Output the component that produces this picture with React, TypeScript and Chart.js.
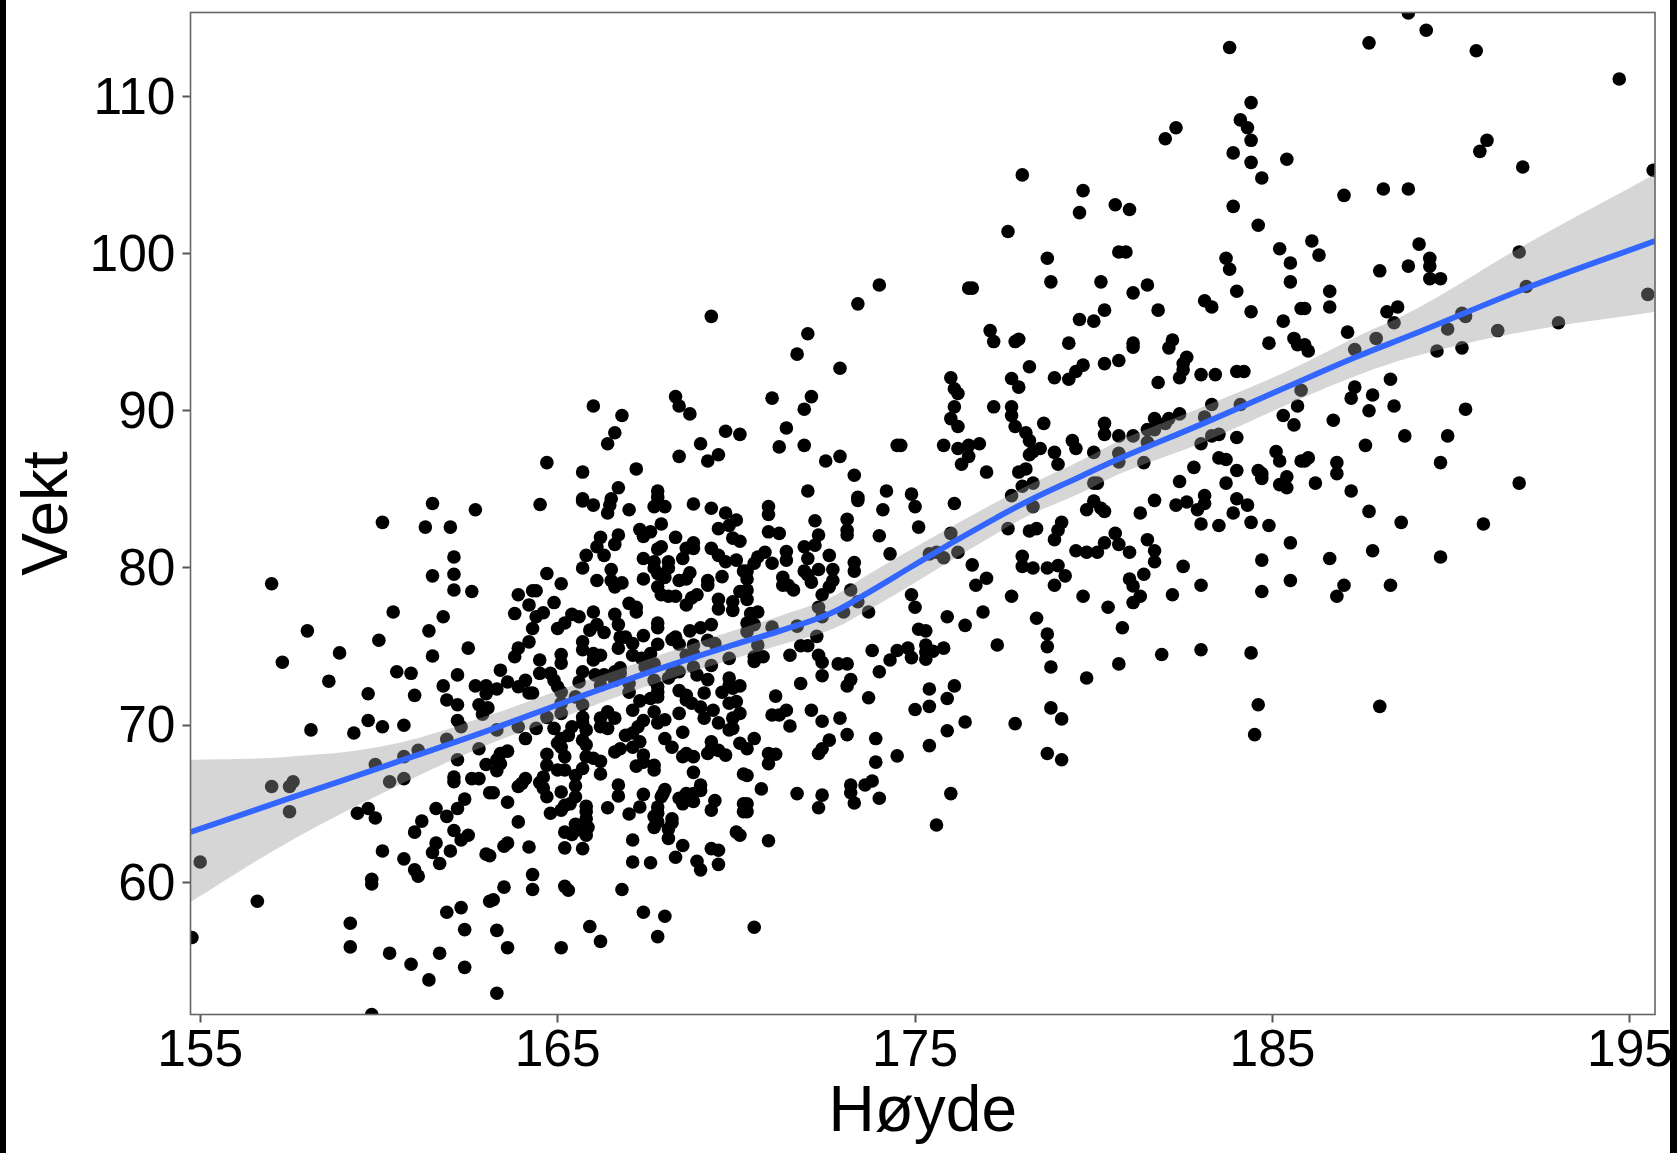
import React, { useEffect, useRef } from "react";
import { Chart, registerables } from "chart.js";

Chart.register(...registerables);

const xTickValues = [155, 165, 175, 185, 195];
const yTickValues = [60, 70, 80, 90, 100, 110];
const xLabel = "Høyde";
const yLabel = "Vekt";

const hoydeVenstre = [161.5,162.7,160.1,161.3,162.0,162.1,161.5,162.1,162.1,162.6,157.0,160.4,161.8,161.4,158.0,160.0,158.9,162.5,161.5,157.3,
160.5,160.9,158.6,162.2,161.8,159.7,161.0,162.7,163.0,163.0,161.9,162.2,162.8,163.05,162.9,162.2,159.7,158.1,159.3,160.1,
160.7,162.3,161.9,161.1,160.7,162.8,162.2,159.9,163.0,162.1,162.1,162.6,162.8,160.3,160.7,157.0,157.5,157.6,157.5,163.1,
162.4,161.6,162.2,159.7,159.4,159.9,161.9,161.2,161.0,162.1,162.5,162.3,161.6,161.5,162.0,160.1,163.0,163.1,160.7,161.7,
155.0,161.0,161.1,159.8,159.8,156.6,163.1,162.3,161.9,159.2,162.4,154.77,159.2,160.3,161.7,160.9,162.4,161.4,159.8];
const vektVenstre = [84.1,83.7,82.9,82.6,82.6,80.7,79.5,79.6,78.6,78.5,79.0,77.2,76.9,76.0,76.0,75.4,74.6,74.9,74.4,74.0,
73.4,73.3,72.8,73.2,72.5,72.0,71.9,72.5,72.5,72.0,71.6,71.3,71.3,71.1,70.7,70.3,70.3,69.7,69.5,69.9,
70.0,69.9,69.1,68.4,68.0,68.5,67.8,67.5,67.5,66.7,66.4,66.6,66.6,66.4,66.6,66.1,66.1,66.4,64.5,65.7,
65.3,64.7,64.7,64.7,64.4,64.1,64.2,63.9,63.2,63.3,63.0,62.7,62.5,61.9,62.0,62.0,61.8,61.7,61.5,61.2,
61.3,60.8,60.4,60.2,59.9,58.8,58.8,58.4,58.1,57.4,57.0,56.5,55.9,55.5,55.5,54.8,54.6,53.8,51.6];

const hoydeOvre = [169.3,173.4,174.0,172.0,171.7,172.9,166.0,166.8,168.3,168.4,168.7,171.0,172.1,171.9,171.4,166.6,166.4,169.7,170.1,169.0,
171.2,171.9,174.5,168.4,169.5,169.2,172.5,172.9,164.7,165.7,167.2,166.7,173.3,167.8,167.8,172.0,174.2,173.4,165.7,166.5];
const vektOvre = [96.0,96.8,98.0,94.9,93.6,92.7,90.3,89.7,90.9,90.3,89.8,90.8,90.9,90.1,88.9,88.6,87.9,88.7,88.5,87.9,
87.7,87.8,87.8,87.1,87.2,86.8,86.8,87.1,86.7,86.1,86.3,85.1,85.9,84.9,84.5,84.9,84.9,84.5,84.4,84.4];

const hoydeMidt = [164.51,165.7,166.0,166.46,167.0,167.7,168.0,168.8,169.3,170.9,173.4,174.1,166.4,169.7,170.9,172.2,173.1,170.0,169.8,169.5,
167.9,170.9,171.2,173.1,173.1,174.0,172.3,167.3,167.6,167.4,166.2,166.7,166.6,166.1,168.3,169.9,170.1,168.8,168.6,168.8,
167.9,167.8,169.3,171.9,172.2,172.6,174.3,166.3,165.8,167.4,168.5,169.5,169.7,170.0,170.8,170.6,170.5,171.4,171.4,171.0,
172.0,165.7,167.7,168.1,167.7,168.1,167.8,173.3,173.3,166.5,170.3,170.2,169.6,168.7,171.9,172.3,172.7,172.0,170.3,167.4,
168.0,166.1,166.5,166.8,166.6,164.7,168.4,168.6,169.2,169.2,171.3,171.3,171.45,171.6,172.1,172.7,172.6,172.4,165.1,167.8,
167.9,168.1,168.3,168.9,168.75,168.6,170.3,170.1,170.3,163.9,164.3,164.4,164.2,164.9,169.5,169.5,169.9,169.9,167.0,167.2,
167.2,163.8,164.4,164.6,165.4,165.6,166.0,166.6,170.6,170.4,173.7,172.3,173.2,173.4,173.0,172.4,166.7,167.8,167.8,169.3,
169.0,168.7,170.3,170.5,170.3,171.0,171.7,164.3,165.2,165.0,165.9,166.1,166.3,167.4,166.75,166.9,168.3,168.2,168.4,168.8,
169.2,169.4,172.25,170.6,171.8,172.0,173.8,174.5,164.2,165.7,166.7,167.1,167.8,165.7,163.9,163.8,165.1,165.1,166.0,166.2,
166.0,167.1,167.35,167.6,168.6,168.8,168.8,169.3,169.8,170.5,170.75,170.5,171.5,172.3,172.4,172.85,173.1,174.3,174.0,164.5,
163.4,166.75,166.6,167.7,167.45,164.5,164.8,165.7,166.05,166.3,166.75,168.2,168.4,168.9,169.8,172.4,173.2,173.1,171.8,165.6,
166.2,166.6,167.0,167.7,168.1,169.2,163.3,163.6,163.9,164.1,164.9,165.0,165.1,164.2,164.3,167.0,167.8,167.8,168.4,168.6,
169.1,169.8,170.1,169.6,169.9,171.1,173.7,165.5,165.1,165.7,167.3,167.6,167.8,168.6,168.75,169.0,169.35,169.8,170.0,167.1,
167.7,168.4,170.1,171.4,171.0,171.2,172.1,165.1,164.7,165.7,166.4,166.2,166.6,168.0,167.8,169.1,169.9,172.4,172.9,169.5,
167.4,165.7,167.25,166.4,166.2,171.5,169.9,169.8,164.9,165.4,165.8,164.4,163.9,163.3,173.1,173.9,167.1,168.5,170.5,172.6,
168.0,164.1,165.1,165.3,165.7,166.9,167.3,169.3,170.1,172.4,172.3,168.2,167.1,166.75,166.6,165.8,165.0,165.1,164.7,165.2,
169.3,169.5,169.7,169.2,170.3,170.9,171.1,168.5,168.8,168.6,167.4,165.8,166.0,166.2,174.5,173.9,170.9,167.2,167.7,167.4,
167.7,164.7,163.6,163.4,163.3,163.4,163.3,165.2,165.0,165.7,165.5,166.2,168.8,170.2,170.3,164.6,164.5,164.1,164.0,163.9,
164.6,163.2,165.5,166.7,169.0,168.0,167.4,167.95,170.7,171.7,172.4,173.2,173.2,173.6,173.8,173.3,174.0,163.6,164.7,165.1,
165.5,166.7,167.9,168.4,168.6,168.8,169.0,168.5,168.8,169.4,165.35,165.2,165.8,167.3,166.4,167.8,167.8,170.2,170.3,170.2,
170.3,169.3,172.3,164.8,165.1,165.8,167.0,167.7,168.2,168.2,167.8,165.8,165.85,165.5,163.9,167.7,168.1,170.0,170.1,165.2,
165.4,165.6,165.8,168.1,167.1,170.9,168.5,164.2,165.2,165.7,169.3,169.5,163.6,163.5,168.3,167.1,167.6,168.9,169.0,169.5,
164.3,164.3,163.5,165.2,165.3,166.8,163.2,167.4,168.0,165.9,163.3,170.5,167.8,166.2,163.6,165.1,163.3];
const vektMidt = [84.04,84.26,84.0,84.0,83.7,83.9,83.9,84.07,83.8,83.9,84.3,83.7,83.5,83.5,83.4,83.0,83.1,83.05,82.7,82.5,
82.8,82.3,82.2,82.4,82.1,82.05,82.1,82.45,82.3,82.0,81.95,82.1,81.5,81.35,81.95,81.9,81.7,81.6,81.25,81.25,
81.35,81.2,81.25,81.35,81.45,80.8,80.9,80.8,80.8,80.6,80.6,80.8,80.4,80.5,81.0,80.7,80.3,81.05,80.5,80.3,
80.6,80.0,80.4,80.4,80.0,80.0,79.65,80.35,79.8,79.9,79.8,79.8,79.45,79.7,79.8,79.9,79.9,79.55,79.3,79.3,
79.4,79.2,79.2,79.05,78.8,79.65,79.2,79.3,79.2,78.9,79.4,78.9,78.9,78.6,79.1,79.2,78.8,78.3,79.0,78.8,
78.3,78.2,78.2,78.3,78.1,77.65,78.6,78.5,78.0,78.3,78.55,78.55,77.65,77.8,78.0,77.4,77.85,77.3,77.75,77.2,
77.5,77.1,76.9,77.15,77.05,76.9,77.2,77.05,77.2,77.1,77.2,77.5,78.6,77.85,77.2,76.9,76.4,76.5,76.2,76.4,
76.2,76.0,76.5,76.4,75.95,76.25,76.3,76.15,76.5,76.15,76.05,76.4,75.9,75.7,75.6,75.6,75.6,75.45,75.15,75.1,
75.4,75.2,75.65,75.1,75.05,75.05,74.75,74.75,75.3,75.3,74.9,75.2,75.15,74.8,74.9,74.35,74.5,73.95,74.55,74.45,
74.15,74.45,74.25,74.55,74.45,74.55,73.7,73.8,74.25,74.35,74.35,74.05,74.45,74.45,74.0,73.9,73.9,74.15,73.4,74.15,
73.5,73.65,73.4,73.9,73.7,73.3,73.3,73.4,73.2,73.2,73.3,73.3,73.4,73.2,73.0,73.15,72.9,72.5,72.65,72.75,
72.55,72.85,72.65,72.85,73.0,72.9,72.3,72.75,72.45,72.85,72.85,72.45,72.1,72.05,72.05,72.1,72.45,72.1,72.2,71.9,
72.05,72.55,72.5,72.1,72.35,71.85,71.75,71.8,71.4,71.3,71.55,71.7,71.8,71.6,71.4,71.15,70.95,71.4,71.5,70.95,
70.85,70.75,70.75,70.95,70.65,70.65,70.95,70.75,70.5,70.5,70.85,70.45,70.45,70.35,70.15,70.45,70.45,70.25,70.45,70.15,
70.3,70.15,69.9,69.8,69.9,69.95,69.8,69.7,69.8,69.9,69.7,69.8,69.9,69.7,69.4,69.15,69.5,69.55,69.15,69.05,
69.15,69.15,69.15,69.35,69.05,69.35,68.95,68.95,68.85,68.5,68.2,68.6,68.6,68.5,68.3,68.75,68.85,68.6,68.15,68.0,
68.5,68.4,68.1,68.2,68.5,68.2,68.15,68.0,68.0,68.2,68.1,68.0,67.9,67.7,68.05,67.65,67.55,67.4,67.45,67.65,
67.15,67.45,68.35,68.2,67.8,67.55,67.1,67.15,67.15,67.25,66.8,66.9,67.0,66.9,66.8,66.7,66.35,66.6,66.3,66.1,
66.0,65.7,66.15,66.2,66.2,65.9,65.6,65.65,65.95,65.65,65.55,66.2,65.7,66.2,66.45,65.05,65.35,65.1,65.45,65.75,
65.45,65.5,65.45,65.35,65.65,65.65,65.85,65.0,65.15,65.2,65.0,64.9,64.85,64.8,64.75,64.8,64.4,65.0,65.0,64.5,
64.5,64.6,64.75,64.4,64.6,64.5,64.35,64.2,64.05,63.8,63.85,64.05,63.5,63.7,63.85,63.5,63.4,63.2,63.0,63.2,
63.05,63.35,63.0,62.8,62.7,62.65,62.35,62.25,62.2,62.15,62.15,62.05,62.5,62.3,61.6,61.3,61.25,61.35,60.8,61.15,
60.5,59.55,59.7,59.75,59.5,59.55,58.9,58.1,57.85,57.2,56.95,57.15,56.55,56.25,55.85,55.85,52.95];

const hoydeHoyreOvre = [183.8,184.4,182.3,182.0,184.3,184.1,184.4,183.9,184.4,185.4,184.7,178.0,179.7,180.6,181.0,179.6,183.9,184.6,177.6,178.7,180.7,180.9,
185.2,183.7,183.8,185.5,178.8,180.2,181.5,185.5,181.1,184.0,176.5,176.6,183.1,183.3,181.8,184.4,180.3,179.6,180.0,185.3,
185.8,177.1,177.2,177.9,177.8,179.3,181.1,181.1,182.2,182.1,184.9,185.6,185.7,182.6,182.5,182.5,182.4,179.7,179.5,179.3,
180.3,180.7,178.2,178.9,177.7,177.9,176.0,176.1,176.2,181.8,183.0,183.4,184.0,184.2,177.2,176.1,177.7,177.7,176.0,176.2,
177.8,178.6,178.1,178.2,180.3,180.3,180.7,181.1,181.7,181.5,181.7,182.1,182.0,182.4,183.3,183.1,184.1,185.8,185.7,185.3,
185.6,183.3,183.5,184.0,183.0,181.5,179.4,179.5,175.8,176.2,176.5,176.8,174.6,178.5,178.3,178.2,178.9,179.0,180.0,180.7,
180.7,181.4,176.5,176.3,177.0,178.1,177.9,178.3,178.0,177.7,178.3,180.0,180.1,183.5,183.7,182.8,184.0,185.1,185.2,184.6,
184.7,184.7,182.4,183.7,185.4,185.2,185.4,185.8,174.9,175.0,176.1,181.7,182.3,182.6,183.1,183.1,182.9,184.0,184.3,183.9,
180.0,179.8,180.2,180.3,181.3];
const vektHoyreOvre = [113.1,109.6,108.0,107.3,108.0,108.5,107.2,106.4,105.8,106.0,104.8,105.0,104.0,103.1,102.8,102.6,103.0,101.8,101.4,99.7,100.1,100.1,
100.3,99.7,99.0,99.4,98.2,98.2,98.0,98.2,97.5,97.6,97.8,97.8,97.0,96.6,96.4,96.3,96.4,95.8,95.7,95.7,
96.5,95.1,94.4,94.55,94.4,94.3,94.3,94.05,94.5,94.0,94.3,94.6,94.2,93.4,93.0,92.6,92.1,92.9,92.5,92.0,
93.0,93.2,92.8,92.1,92.05,91.5,92.1,91.4,91.1,91.8,92.3,92.3,92.5,92.5,90.25,90.25,90.25,89.7,89.5,89.0,
89.0,89.2,88.6,88.1,89.2,88.5,88.4,88.4,89.5,88.8,88.8,89.5,89.2,89.8,90.4,89.6,90.4,91.3,90.3,89.7,
89.1,88.4,88.5,88.3,87.9,88.0,88.1,87.6,87.8,87.6,87.8,87.9,87.8,87.6,87.4,87.2,87.35,86.6,87.35,87.3,
86.75,86.7,87.1,86.6,86.1,86.3,86.1,85.4,85.2,84.6,83.9,85.4,85.4,87.0,86.9,86.4,86.2,87.4,86.8,86.2,
86.0,85.7,85.5,85.4,85.8,85.3,85.1,86.8,84.7,83.9,84.1,84.3,84.0,84.2,84.6,84.1,83.7,84.4,84.0,83.5,
84.25,83.7,83.8,83.6,83.5];

const hoydeHoyreNedre = [179.1,179.0,178.9,175.1,176.0,177.6,178.2,178.4,183.0,183.5,184.4,184.9,185.5,180.6,180.3,180.7,181.5,181.7,181.7,181.0,
179.5,179.8,180.1,175.4,175.6,175.8,176.2,176.6,178.0,178.0,178.3,178.7,179.0,179.2,178.9,184.7,182.5,177.0,176.7,181.0,
181.4,181.1,181.3,181.1,183.0,185.5,182.2,184.7,179.7,174.9,177.7,175.0,180.4,175.9,176.9,178.4,176.4,180.8,175.1,175.3,
178.7,177.3,178.7,175.3,174.8,175.5,175.3,175.8,174.9,175.3,181.9,183.0,184.4,180.7,178.8,179.8,176.1,175.4,175.9,175.4,
175.0,178.8,179.1,184.6,176.4,177.8,175.9,184.5,175.4,178.7,179.1,176.0,175.6];
const vektHoyreNedre = [82.9,82.4,81.8,82.6,82.2,82.5,82.35,82.5,82.8,82.7,82.9,82.7,81.6,82.2,81.6,81.5,81.8,81.1,80.4,81.0,
81.1,81.0,81.0,80.9,81.0,80.65,81.0,80.2,80.75,80.1,80.0,80.0,80.15,79.5,78.9,80.5,80.1,79.35,78.9,79.3,
79.6,78.85,78.2,77.8,78.9,79.2,78.3,78.5,78.2,78.3,78.2,77.5,77.5,76.9,77.2,76.8,76.35,76.2,76.1,76.0,
75.8,75.1,75.0,75.1,74.9,74.7,74.65,74.9,74.3,74.2,74.5,74.8,74.6,73.9,73.7,73.0,72.5,72.3,71.7,71.2,
71.0,71.1,70.4,71.3,70.2,70.1,69.65,69.4,68.7,68.2,67.8,65.65,63.65];

const hoydeYtterst = [188.8,189.3,187.7,190.7,194.7,191.0,190.8,192.0,195.65,187.0,188.1,188.8,186.1,186.3,189.1,191.9,189.4,189.4,188.8,188.0,
189.4,189.7,192.1,186.6,186.6,185.9,188.5,188.2,188.4,195.5,190.3,190.4,189.9,191.3,193.0,187.1,187.9,187.3,189.6,190.3,
185.9,186.0,188.3,187.3,187.2,187.8,188.4,187.7,190.4,186.7,188.7,189.9,187.6,186.0,185.9,186.8,189.7,186.8,191.9,186.2,
187.2,187.7,188.6,190.9,187.8,186.6,189.7,187.0,188.3,186.8,188.0];
const vektYtterst = [115.3,114.2,113.4,112.9,111.1,107.2,106.5,105.5,105.3,103.7,104.1,104.1,100.8,99.9,100.6,100.1,99.7,99.2,99.2,98.9,
98.4,98.4,97.9,97.6,96.6,96.5,96.6,96.3,95.6,97.4,96.2,96.0,95.2,95.1,95.6,95.0,94.6,93.9,93.8,94.0,
94.2,93.8,92.0,91.5,90.8,91.0,90.3,90.0,90.1,89.4,88.4,88.4,87.8,87.0,86.8,86.7,86.7,86.0,85.4,85.4,
84.9,83.6,82.9,82.8,81.1,80.6,80.7,78.9,78.9,78.2,71.2];

const smoothX = [154.73,157.5,160.3,163.1,165.25,167.6,169.9,171.22,172.62,173.55,174.95,175.88,177.28,178.2,179.61,180.73,183.06,185.39,187.26,189.12,192.1,195.7];
const smoothY = [63.2,65.35,67.5,69.7,71.5,73.4,75.1,76.0,77.1,78.25,80.15,81.4,83.2,84.3,85.8,86.97,89.19,91.5,93.35,95.03,97.8,100.8];
const smoothUpper = [67.8,68.0,68.75,70.65,72.4,74.25,76.0,76.95,78.1,79.4,81.25,82.45,84.2,85.3,86.8,88.1,90.25,92.5,94.6,96.6,100.6,105.05];
const smoothLower = [58.75,62.6,65.9,68.8,70.6,72.55,74.2,75.1,76.05,77.15,79.0,80.3,82.2,83.35,84.75,86.0,88.0,90.36,92.15,93.54,95.05,96.3];

const hoyde = [...hoydeVenstre, ...hoydeOvre, ...hoydeMidt, ...hoydeHoyreOvre, ...hoydeHoyreNedre, ...hoydeYtterst];
const vekt = [...vektVenstre, ...vektOvre, ...vektMidt, ...vektHoyreOvre, ...vektHoyreNedre, ...vektYtterst];

const FONT = "'Liberation Sans', Arial, sans-serif";

const panelBorder = {
  id: "panelBorder",
  afterDatasetsDraw(chart: any) {
    const { ctx, chartArea: a } = chart;
    ctx.save();
    ctx.strokeStyle = "#666666";
    ctx.lineWidth = 1.6;
    ctx.strokeRect(a.left, a.top, a.right - a.left, a.bottom - a.top);
    ctx.restore();
  },
};

export default function App() {
  const ref = useRef<HTMLCanvasElement>(null);
  useEffect(() => {
    const zip = (xs: number[], ys: number[]) => xs.map((x, i) => ({ x, y: ys[i] }));
    const noOverflow = (s: any) => {
      s.paddingTop = 0;
      s.paddingBottom = 0;
      s.paddingLeft = 0;
      s.paddingRight = 0;
    };
    const chart = new Chart(ref.current as HTMLCanvasElement, {
      type: "scatter",
      data: {
        datasets: [
          {
            data: zip(smoothX, smoothY),
            showLine: true,
            borderColor: "#3366FF",
            borderWidth: 5.8,
            pointRadius: 0,
            tension: 0.4,
            fill: false,
            clip: 0,
          },
          {
            data: zip(smoothX, smoothUpper),
            showLine: true,
            borderWidth: 0,
            borderColor: "rgba(0,0,0,0)",
            backgroundColor: "rgba(153,153,153,0.4)",
            pointRadius: 0,
            tension: 0.4,
            fill: "+1",
            clip: 0,
          },
          {
            data: zip(smoothX, smoothLower),
            showLine: true,
            borderWidth: 0,
            borderColor: "rgba(0,0,0,0)",
            pointRadius: 0,
            tension: 0.4,
            fill: false,
            clip: 0,
          },
          {
            data: zip(hoyde, vekt),
            pointRadius: 6.8,
            pointBackgroundColor: "#000000",
            pointBorderWidth: 0,
            clip: 0,
          },
        ],
      } as any,
      options: {
        animation: false,
        responsive: false,
        maintainAspectRatio: false,
        devicePixelRatio: 1,
        events: [],
        layout: { padding: { left: 0, top: 12.5, right: 22, bottom: 0 } },
        plugins: { legend: { display: false }, tooltip: { enabled: false } },
        scales: {
          x: {
            type: "linear",
            min: 154.73,
            max: 195.7,
            afterFit: (s: any) => { s.height = 138.5; noOverflow(s); },
            afterBuildTicks: (s: any) => { s.ticks = xTickValues.map((value) => ({ value })); },
            grid: { drawOnChartArea: false, drawTicks: true, tickLength: 8, tickColor: "#555555", tickWidth: 2 },
            border: { display: false },
            ticks: { color: "#000", font: { family: FONT, size: 51.5 }, padding: -2, maxRotation: 0, autoSkip: false },
            title: { display: true, text: xLabel, color: "#000", font: { family: FONT, size: 64 }, padding: { top: 0, bottom: 1 } },
          },
          y: {
            type: "linear",
            min: 51.6,
            max: 115.33,
            afterFit: (s: any) => { s.width = 190.5; noOverflow(s); },
            afterBuildTicks: (s: any) => { s.ticks = yTickValues.map((value) => ({ value })); },
            grid: { drawOnChartArea: false, drawTicks: true, tickLength: 8, tickColor: "#555555", tickWidth: 2 },
            border: { display: false },
            ticks: { color: "#000", font: { family: FONT, size: 51.5 }, padding: 7, labelOffset: 3, autoSkip: false },
            title: { display: true, text: yLabel, color: "#000", font: { family: FONT, size: 64 }, padding: { top: 11, bottom: 0 } },
          },
        },
      } as any,
      plugins: [panelBorder],
    });
    return () => chart.destroy();
  }, []);

  return (
    <div style={{ position: "absolute", left: 0, top: 0, width: 1677, height: 1153, background: "#fff", overflow: "hidden" }}>
      <canvas ref={ref} width={1677} height={1153} style={{ display: "block", width: 1677, height: 1153 }} />
      <div style={{ position: "absolute", left: 0, top: 0, width: 6, height: 1153, background: "#000" }} />
      <div style={{ position: "absolute", left: 1670, top: 0, width: 7, height: 1153, background: "#000" }} />
    </div>
  );
}
